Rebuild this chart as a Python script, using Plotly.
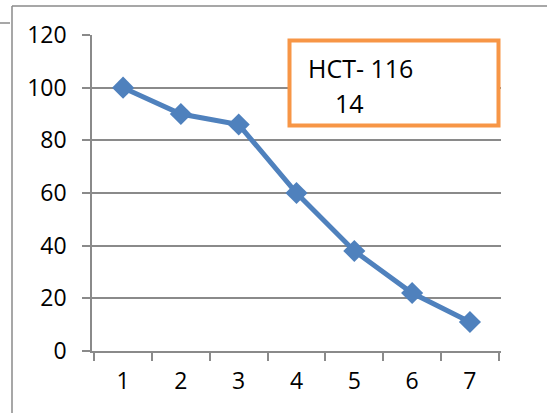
import plotly.graph_objects as go

# Series data
categories = ["1", "2", "3", "4", "5", "6", "7"]
values = [100, 90, 86, 60, 38, 22, 11]
y_ticks = [0, 20, 40, 60, 80, 100, 120]
label_line1 = "HCT- 116"
label_line2 = "14"

W, H = 547, 413
ML, MR, MT, MB = 92, 46, 35, 62
PW, PH = W - ML - MR, H - MT - MB

GRID = "#8a8a8a"
BLUE = "#4F81BD"
ORANGE = "#F79646"
FONT = "Open Sans, Liberation Sans, sans-serif"


def px_x(px):
    return (px - ML) / PW


def px_y(py):
    return (H - MB - py) / PH


fig = go.Figure()
fig.add_trace(go.Scatter(
    x=categories,
    y=values,
    mode="lines+markers",
    line=dict(color=BLUE, width=5),
    marker=dict(symbol="diamond", size=17, color=BLUE),
    showlegend=False,
    hoverinfo="skip",
))

shapes = [
    # outer frame pieces
    dict(type="line", xref="paper", yref="paper", x0=px_x(12), x1=px_x(560),
         y0=px_y(6), y1=px_y(6), line=dict(color=GRID, width=1.5)),
    dict(type="line", xref="paper", yref="paper", x0=px_x(12), x1=px_x(12),
         y0=px_y(6), y1=px_y(420), line=dict(color=GRID, width=1.5)),
    dict(type="line", xref="paper", yref="paper", x0=px_x(-2), x1=px_x(10),
         y0=px_y(23), y1=px_y(23), line=dict(color=GRID, width=1.5)),
    # label box
    dict(type="rect", xref="paper", yref="paper", x0=px_x(289.5), x1=px_x(498.5),
         y0=px_y(40.5), y1=px_y(125.5), fillcolor="white",
         line=dict(color=ORANGE, width=4), layer="above"),
]

annotations = [
    dict(text=label_line1, xref="paper", yref="paper", x=px_x(306), y=px_y(68),
         xanchor="left", yanchor="middle", showarrow=False,
         font=dict(family=FONT, size=25, color="black")),
    dict(text=label_line2, xref="paper", yref="paper", x=px_x(333), y=px_y(103),
         xanchor="left", yanchor="middle", showarrow=False,
         font=dict(family=FONT, size=25, color="black")),
]

fig.update_layout(
    width=W, height=H,
    margin=dict(l=ML, r=MR, t=MT, b=MB),
    paper_bgcolor="white",
    plot_bgcolor="white",
    shapes=shapes,
    annotations=annotations,
    font=dict(family=FONT, size=23, color="black"),
    xaxis=dict(
        type="category",
        tickson="boundaries",
        ticks="outside",
        ticklen=8,
        tickwidth=1.5,
        tickcolor=GRID,
        showline=True,
        linecolor=GRID,
        linewidth=1.5,
        showgrid=False,
        zeroline=False,
        tickfont=dict(family=FONT, size=23, color="black"),
        ticklabelstandoff=9,
    ),
    yaxis=dict(
        range=[0, 120],
        tickvals=y_ticks,
        ticks="outside",
        ticklen=8,
        tickwidth=1.5,
        tickcolor=GRID,
        showline=True,
        linecolor=GRID,
        linewidth=1.5,
        showgrid=True,
        gridcolor=GRID,
        gridwidth=1.5,
        zeroline=False,
        tickfont=dict(family=FONT, size=23, color="black"),
        ticklabelstandoff=11,
    ),
)

fig.write_html("out.html")
